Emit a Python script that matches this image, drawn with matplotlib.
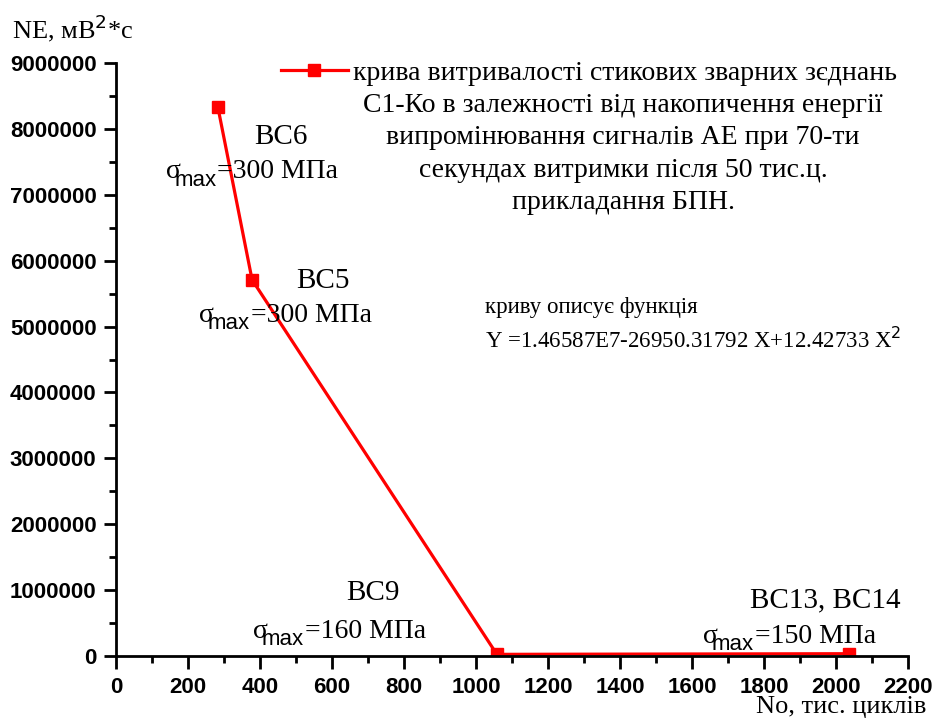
import matplotlib.pyplot as plt
from matplotlib.ticker import MultipleLocator, FormatStrFormatter

# thousands of cycles vs accumulated AE energy
cycles = [283, 378, 1058, 2036]
energy = [8330000, 5710000, 25000, 35000]

# labels next to the points: (name, sigma, name pos, sigma pos)
specimens = ["ВС6", "ВС5", "ВС9", "ВС13, ВС14"]
stress = ["300", "300", "160", "150"]
name_xy = [(458, 7880000), (575, 5690000), (714, 956000), (1969, 850000)]
sig_xy = [(139, 7350000), (231, 5175000), (381, 379000), (1631, 300000)]

legend_lines = ["крива витривалості стикових зварних зєднань",
                "С1-Ко в залежності від накопичення енергії",
                "випромінювання сигналів АЕ при 70-ти",
                "секундах витримки після 50 тис.ц.",
                "прикладання БПН."]

serif = "Liberation Serif"
sans = "Liberation Sans"

fig = plt.figure(figsize=(9.36, 7.26), dpi=100)
ax = fig.add_axes([116/936, 1-656/726, 792/936, 593/726])

line, = ax.plot(cycles, energy, color="red", lw=2.3, marker="s",
                markersize=8.5, markeredgecolor="red")

ax.set_xlim(0, 2200)
ax.set_ylim(0, 9000000)
ax.xaxis.set_major_locator(MultipleLocator(200))
ax.xaxis.set_minor_locator(MultipleLocator(100))
ax.yaxis.set_major_locator(MultipleLocator(1000000))
ax.yaxis.set_minor_locator(MultipleLocator(500000))
ax.yaxis.set_major_formatter(FormatStrFormatter("%d"))
for s in ["top", "right"]:
    ax.spines[s].set_visible(False)
for s in ["left", "bottom"]:
    ax.spines[s].set_linewidth(2)
ax.tick_params(which="major", direction="out", length=9, width=2,
               labelsize=16)
ax.tick_params(which="minor", direction="out", length=5, width=2)
for lab in ax.get_xticklabels() + ax.get_yticklabels():
    lab.set_fontfamily(sans)
    lab.set_fontweight("bold")
ax.tick_params(axis="x", pad=6)
ax.tick_params(axis="y", pad=5)

fig.text(12/936, 1-28/726, "NE, мВ$^2$*с", family=serif, fontsize=19,
         va="center", ha="left")
fig.text(926/936, 1-707/726, "No, тис. циклів", family=serif, fontsize=19,
         va="center", ha="right")

for name, sg, (nx, ny), (sx, sy) in zip(specimens, stress, name_xy, sig_xy):
    ax.text(nx, ny, name, family=serif, fontsize=21, ha="center", va="center")
    ax.text(sx, sy, "σ", family=serif, fontsize=20, ha="left", va="center")
    ax.annotate("max", (sx, sy), xytext=(6, -6), textcoords="offset points",
                family=sans, fontsize=16, ha="left", va="center")
    ax.annotate("=" + sg + " МПа", (sx, sy), xytext=(37, 0),
                textcoords="offset points", family=serif, fontsize=20,
                ha="left", va="center")

leg = ax.legend([line], [legend_lines[0]], loc="upper left",
                bbox_to_anchor=(154/792, 1.0 + 14/593), frameon=False,
                handlelength=2.4, handletextpad=0.2, borderaxespad=0,
                prop={"family": serif, "size": 20})
fig.text(623/936, 1-154/726, "\n".join(legend_lines[1:]), family=serif,
         fontsize=20, ha="center", va="center", linespacing=1.4)

fig.text(485/936, 1-307/726, "криву описує функція", family=serif,
         fontsize=16.5, ha="left", va="center")
fig.text(485/936, 1-340/726,
         "Y =1.46587E7-26950.31792 X+12.42733 X$^2$", family=serif,
         fontsize=16.5, ha="left", va="center")

fig.savefig("out.png", dpi=100)
